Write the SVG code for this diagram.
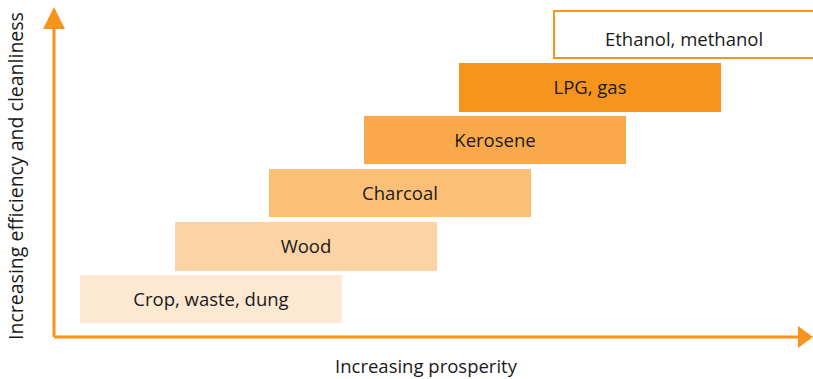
<svg xmlns="http://www.w3.org/2000/svg" width="813" height="379" viewBox="0 0 813 379">
<style>
text{font-family:"Open Sans","Liberation Sans",sans-serif;font-size:18.5px;fill:#1a1a1a;text-anchor:middle}
.ax{stroke:#F7941D;stroke-width:3;fill:none}
</style>
<rect width="813" height="379" fill="#fff"/>
<g id="axes">
<line class="ax" x1="54" y1="337" x2="54" y2="26"/>
<polygon points="54,7 43,29 65,29" fill="#F7941D"/>
<line class="ax" x1="54" y1="337" x2="800" y2="337"/>
<polygon points="813,337 798,326 798,348" fill="#F7941D"/>
</g>
<g id="crop"><rect x="80" y="275" width="262" height="48" fill="#FDE8D1"/><text x="211" y="305.5">Crop, waste, dung</text></g>
<g id="wood"><rect x="175" y="222" width="262" height="49" fill="#FCD3A5"/><text x="306" y="252.5">Wood</text></g>
<g id="charcoal"><rect x="269" y="169" width="262" height="48" fill="#FBBF78"/><text x="400" y="199.5">Charcoal</text></g>
<g id="kerosene"><rect x="364" y="116" width="262" height="48" fill="#F9A94B"/><text x="495" y="146.5">Kerosene</text></g>
<g id="lpg"><rect x="459" y="63" width="262" height="49" fill="#F7941D"/><text x="590" y="93.5">LPG, gas</text></g>
<g id="ethanol"><rect x="554" y="11" width="262" height="47" fill="#fff" stroke="#F7941D" stroke-width="2"/><text x="684" y="46">Ethanol, methanol</text></g>
<text x="426" y="373">Increasing prosperity</text>
<text transform="translate(23,176) rotate(-90)" style="font-size:19.5px">Increasing efficiency and cleanliness</text>
</svg>
